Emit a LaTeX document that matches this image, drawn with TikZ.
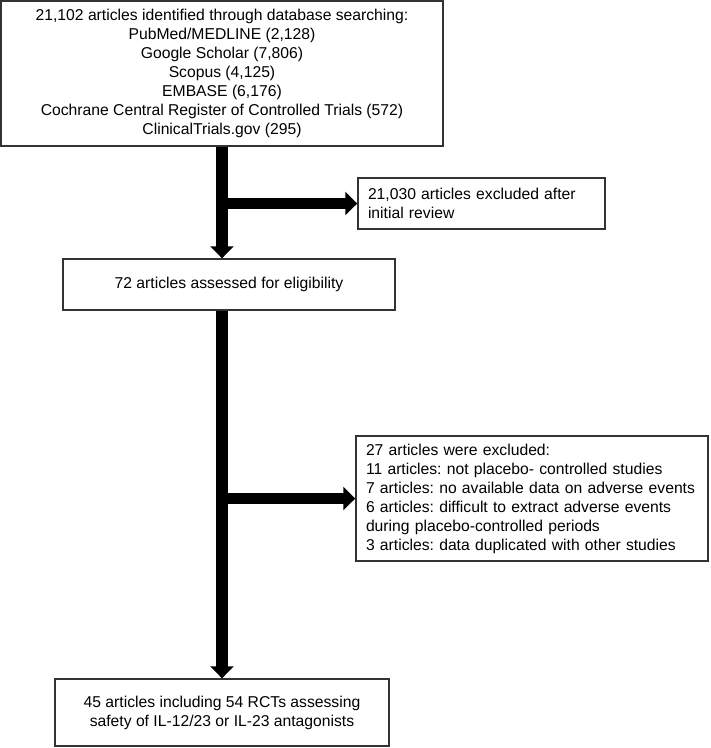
\documentclass[tikz,border=0pt]{standalone}
\usepackage{fontspec}
\setmainfont{Liberation Sans}
\frenchspacing
\usetikzlibrary{arrows.meta,positioning}
\tikzset{
  rec/.style  ={draw=black!80,line width=1.4pt,align=center,inner sep=0pt,
                font=\fontsize{15.7}{19}\selectfont},
  excl/.style ={draw=black!80,line width=1.4pt,align=left,inner xsep=10pt,inner ysep=0pt,
                font=\fontsize{15.7}{19}\selectfont},
  flow/.style ={line width=11.5pt,-{Triangle[length=12pt,width=23pt]}},
}

\begin{document}
\begin{tikzpicture}[x=1pt,y=-1pt]
\useasboundingbox (0,0) rectangle (711,748);
\node[rec,minimum width=442pt,minimum height=145pt] (S) at (222,73.5)
  {21,102 articles identified through database searching:\\PubMed/MEDLINE (2,128)\\
   Google Scholar (7,806)\\Scopus (4,125)\\EMBASE (6,176)\\
   Cochrane Central Register of Controlled Trials (572)\\ClinicalTrials.gov (295)};
\node[excl,text width=227pt,minimum height=51pt] (X1) at (481.5,203.5)
  {21,030 articles excluded after initial review};
\node[rec,minimum width=332pt,minimum height=51pt] (E) at (229,284.5)
  {72 articles assessed for eligibility};
\node[excl,text width=332pt,minimum height=125pt] (X2) at (532,498.5)
  {27 articles were excluded:\\11 articles: not placebo- controlled studies\\
   7 articles: no available data on adverse events\\
   6 articles: difficult to extract adverse events\\during placebo-controlled periods\\
   3 articles: data duplicated with other studies};
\node[rec,minimum width=334pt,minimum height=67pt] (R) at (222,712.5)
  {45 articles including 54 RCTs assessing\\safety of IL-12/23 or IL-23 antagonists};
\draw[flow] (S.south) -- (S.south |- E.north);
\draw[flow] (S.south |- X1.west) -- (X1.west);
\draw[flow] (S.south |- E.south) -- (R.north);
\draw[flow] (S.south |- X2.west) -- (X2.west);
\end{tikzpicture}
\end{document}
